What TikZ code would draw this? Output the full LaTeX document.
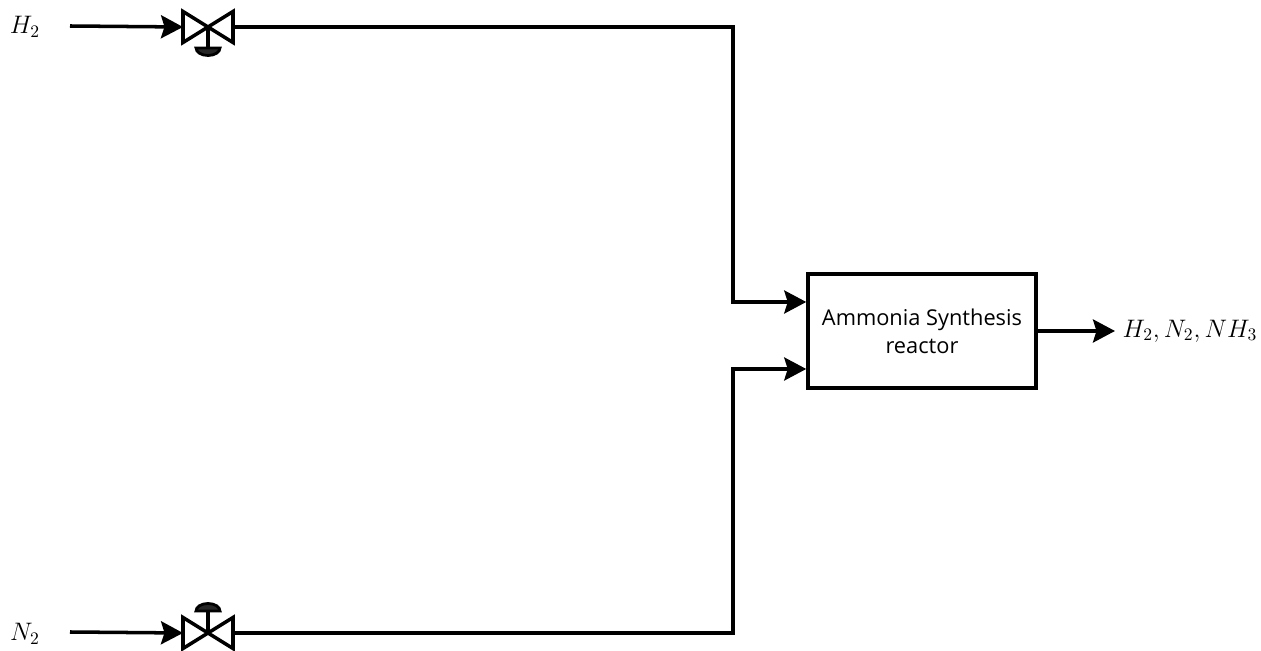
\documentclass[tikz,border=0pt]{standalone}
\usepackage{amsmath, amssymb}
\usepackage{fontspec}
\setsansfont{Open Sans}
\usetikzlibrary{arrows.meta, calc}

\begin{document}
\begin{tikzpicture}[>={Stealth[length=0.44cm,width=0.46cm,inset=0.07cm]},
  pipe/.style={line width=2pt, line join=miter},
  valve/.style={minimum width=1cm, minimum height=0.62cm, inner sep=0pt, outer sep=0pt},
  stream/.style={font=\fontsize{13.8}{16}\selectfont},
  reactor/.style={draw, line width=2pt, minimum width=4.56cm, minimum height=2.28cm, align=center, font=\sffamily\fontsize{12.4}{16}\selectfont, inner sep=0pt}]
\useasboundingbox (0,0) rectangle (25.22,13.02);

\node[stream] (h2) at (0.5,12.48) {$H_2$};
\node[stream] (n2) at (0.5,0.34) {$N_2$};
\node[valve] (v1) at (4.16,12.48) {};
\node[valve] (v2) at (4.16,0.36) {};
\node[reactor] (r) at (18.44,6.4) {Ammonia Synthesis\\reactor};
\node[stream, font=\fontsize{14.2}{17}\selectfont] (out) at (23.8,6.4) {$H_2, N_2, NH_3$};

\coordinate (h2start) at (1.4,12.5);
\coordinate (n2start) at (1.4,0.38);
\coordinate (h2corner) at (14.66,12.48);
\coordinate (n2corner) at (14.66,0.36);
\coordinate (h2in) at ($(r.west)+(0,0.58)$);
\coordinate (n2in) at ($(r.west)+(0,-0.76)$);
\coordinate (rout) at (22.3,6.4);

% valves
\draw[pipe] (v1.north west) -- (v1.south west) -- (v1.north east) -- (v1.south east) -- cycle;
\draw[pipe] (v2.north west) -- (v2.south west) -- (v2.north east) -- (v2.south east) -- cycle;
\draw[pipe] (v1.center) -- ++(0,-0.42) coordinate (s1);
\draw[pipe] (v2.center) -- ++(0,0.44) coordinate (s2);
\draw[line width=1.6pt, fill=black!85] ($(s1)+(-0.24,0)$) arc[start angle=180, end angle=360, x radius=0.24, y radius=0.15] -- cycle;
\draw[line width=1.6pt, fill=black!85] ($(s2)+(-0.24,0)$) arc[start angle=180, end angle=0, x radius=0.24, y radius=0.15] -- cycle;

% streams
\draw[pipe, ->] (h2start) -- (v1.west);
\draw[pipe, ->] (n2start) -- (v2.west);
\draw[pipe, ->] (v1.east) -- (h2corner) |- (h2in);
\draw[pipe, ->] (v2.east) -- (n2corner) |- (n2in);
\draw[pipe, ->] (r.east) -- (rout);
\end{tikzpicture}
\end{document}
